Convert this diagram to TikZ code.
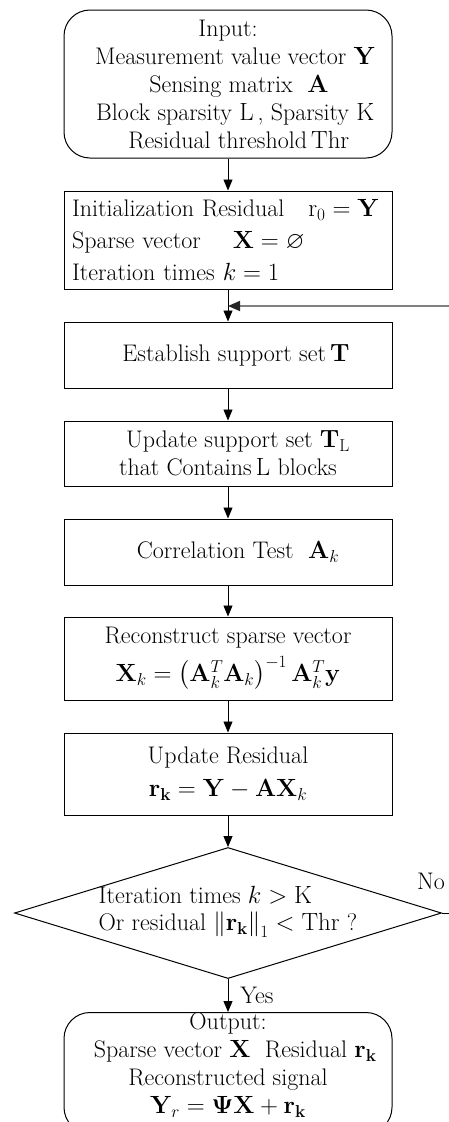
\documentclass[tikz,border=0pt]{standalone}
\usepackage{amsmath,amssymb}
\usetikzlibrary{shapes.geometric,arrows.meta}
\begin{document}
\begin{tikzpicture}[x=1pt,y=-1pt,
  font=\fontsize{24}{28}\selectfont,
  box/.style={draw, line width=1pt, minimum width=328pt, inner sep=0pt, align=center},
  term/.style={box, rounded corners=26pt},
  arr/.style={-{Triangle[length=11pt,width=9pt]}, line width=0.9pt},
  lbl/.style={inner sep=0pt},
]
\useasboundingbox (0,0) rectangle (449,1122);
\node[term, minimum height=148pt] (in) at (228,84)
  {Input:\\ \ \ Measurement value vector $\mathbf{Y}$\\ \ \ \ Sensing matrix\ \ $\mathbf{A}$\\
   \ \ Block sparsity $\mathrm{L}$\,,\ Sparsity $\mathrm{K}$\\ \ \ \ Residual threshold$\,\mathrm{Thr}$};
\node[box, minimum height=98pt, text width=312pt, inner xsep=8pt, align=left] (init) at (228,240)
  {Initialization Residual\ \ \ $\mathrm{r}_0=\mathbf{Y}$\\[4pt]
   Sparse vector\ \ \ \ $\mathbf{X}=\varnothing$\\[4pt]
   Iteration times\ $k=1$};
\node[box, minimum height=66pt] (est) at (228,355) {\hspace*{16pt}Establish support set$\,\mathbf{T}$};
\node[box, minimum height=65pt] (upd) at (228,453.5)
  {\hspace*{20pt}Update support set $\mathbf{T}_{\mathrm{L}}$\\ that Contains$\,\mathrm{L}$ blocks};
\node[box, minimum height=66pt] (cor) at (228,552) {\hspace*{20pt}Correlation Test\ \ $\mathbf{A}_k$};
\node[box, minimum height=83pt] (rec) at (228,658.5)
  {Reconstruct sparse vector\\[7pt]
   $\mathbf{X}_k=\left(\mathbf{A}_k^T\mathbf{A}_k\right)^{-1}\mathbf{A}_k^T\mathbf{y}$};
\node[box, minimum height=82pt] (res) at (228,774)
  {Update Residual\\[5pt] $\mathbf{r}_{\mathbf{k}} = \mathbf{Y}-\mathbf{A}\mathbf{X}_k$};
\node[diamond, draw, line width=1pt, minimum width=427pt, minimum height=131pt, inner sep=0pt, aspect=3.26] (dec) at (228,913) {};
\node[lbl, align=left, font=\fontsize{24}{24}\selectfont] (dectext) at (228,912)
  {Iteration times $k>\mathrm{K}$\\[3pt]
   Or residual $\left\|\mathbf{r}_{\mathbf{k}}\right\|_1<\mathrm{Thr}$\ ?};
\node[term, anchor=north] (out) at (228,1012)
  {Output:\\ \ \ Sparse vector $\mathbf{X}$\ \ Residual $\mathbf{r}_{\mathbf{k}}$\\
   Reconstructed signal\\ $\mathbf{Y}_r=\mathbf{\Psi X}+\mathbf{r}_{\mathbf{k}}$\rule[-20pt]{0pt}{20pt}};
\coordinate (join) at (228,306);
\coordinate (loopin) at (449,306);
\coordinate (noend) at (449,913);
\draw[arr] (in) -- (init);
\draw[arr] (init) -- (est);
\draw[-{Triangle[length=12pt,width=10pt,color=black!85]}, line width=1.6pt, black!50] (loopin) -- (join);
\draw[arr] (est) -- (upd);
\draw[arr] (upd) -- (cor);
\draw[arr] (cor) -- (rec);
\draw[arr] (rec) -- (res);
\draw[arr] (res) -- (dec);
\draw[arr] (dec) -- node[right=12pt, lbl] (yes) {Yes} (out);
\draw[line width=1pt] (dec.east) -- (noend);
\node[lbl] (no) at (431,881) {No};
\end{tikzpicture}
\end{document}
